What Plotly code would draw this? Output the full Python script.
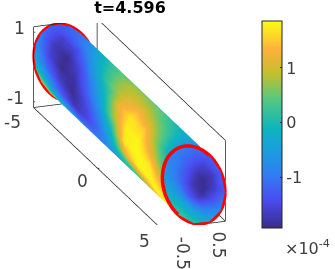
import numpy as np
import plotly.graph_objects as go

title = "t=4.596"

# stations along the tube and round it (degrees)
axial = [-5, -4, -3, -2, -1, 0, 1, 2, 3, 4, 5]
angle = [40, 60, 80, 100, 120, 140, 160, 180, 200, 220, 240, 260]

# field on the tube wall, in units of 1e-4, one row per angle
wall = [
    [-0.9, -0.6, -0.1, 0.3, 0.6, 0.5, 0.4, 0.1, -0.3, -0.7, -0.9],
    [-1.0, -0.7, -0.1, 0.4, 0.6, 0.5, 0.4, 0.1, -0.3, -0.7, -1.0],
    [-1.2, -1.0, -0.5, 0.1, 0.5, 0.8, 0.7, 0.5, 0.1, -0.3, -0.8],
    [-1.3, -1.2, -0.9, -0.3, 0.3, 0.8, 0.9, 0.8, 0.4, 0.0, -0.7],
    [-1.2, -1.6, -1.5, -0.9, -0.1, 0.6, 1.1, 1.3, 0.9, 0.3, -0.5],
    [-1.0, -1.7, -1.9, -1.5, -0.8, 0.0, 1.2, 1.7, 1.5, 0.6, -0.3],
    [-0.7, -1.5, -1.9, -1.8, -1.2, -0.5, 0.7, 1.75, 1.8, 1.1, 0.2],
    [-0.4, -1.1, -1.6, -1.9, -1.5, -0.9, 0.0, 1.7, 1.85, 1.7, 0.8],
    [0.2, -0.6, -1.3, -1.7, -1.5, -1.0, -0.2, 1.2, 1.8, 1.8, 1.3],
    [0.9, -0.3, -0.8, -1.2, -1.1, -0.8, -0.1, 0.3, 1.1, 1.8, 1.7],
    [1.3, 0.1, -0.5, -0.9, -0.9, -0.6, -0.1, 0.3, 0.9, 1.8, 1.8],
    [1.3, 0.1, -0.5, -0.9, -0.9, -0.6, -0.1, 0.3, 0.9, 1.8, 1.8],
]

# field on the end cap at x=5, one row per radius
cap_radius = [0, 0.33, 0.67, 1]
cap_angle = [0, 30, 60, 90, 120, 150, 180, 210, 240, 270, 300, 330, 360]
cap = [
    [-1.75, -1.75, -1.75, -1.75, -1.75, -1.75, -1.75, -1.75, -1.75, -1.75, -1.75, -1.75, -1.75],
    [-1.9, -1.9, -1.8, -1.6, -1.4, -1.3, -1.25, -1.2, -1.3, -1.45, -1.7, -1.85, -1.9],
    [-1.6, -1.7, -1.55, -1.3, -1.1, -0.95, -0.8, -0.5, -0.3, -0.5, -0.9, -1.3, -1.6],
    [-1.2, -1.2, -1.2, -1.0, -0.9, -0.8, -0.5, 0.0, 0.3, 0.1, -0.3, -0.8, -1.2],
]

xticks = [-5, 0, 5]
yticks = [-0.5, 0.5]
zticks = [-1, 1]
cticks = [-1, 0, 1]

xlim = [-5, 5]
ylim = [-0.935, 0.935]
zlim = [-1.16, 1.16]
clim = [-1.93, 1.86]

colors = [
    [0.0, "#3a2c8c"], [0.136, "#4a4cf0"], [0.265, "#2f80f2"], [0.377, "#1a9fdc"],
    [0.48, "#0db4bf"], [0.618, "#52c882"], [0.746, "#c4bf2e"], [0.859, "#fdb13c"],
    [0.95, "#fee224"], [1.0, "#f9fb15"],
]


def section(deg):
    t = np.radians(deg)
    return 0.92 * np.cos(t), 1.10 * np.sin(t) - 0.32 * np.cos(t)


fig = go.Figure()

shade = dict(ambient=1, diffuse=0, specular=0, roughness=1, fresnel=0)
ax_grid, ang_grid = np.meshgrid(axial, angle)
wall_y, wall_z = section(ang_grid)
fig.add_trace(go.Surface(
    x=ax_grid, y=wall_y, z=wall_z, surfacecolor=wall,
    cmin=clim[0], cmax=clim[1], colorscale=colors, lighting=shade,
    hoverinfo="skip",
    colorbar=dict(
        x=262 / 335, xanchor="left", y=1 - 21 / 269, yanchor="top",
        thickness=20, thicknessmode="pixels", len=207, lenmode="pixels",
        outlinecolor="#262626", outlinewidth=1,
        tickvals=cticks, ticktext=[str(v) for v in cticks],
        ticks="inside", ticklen=2, tickcolor="#262626",
        tickfont=dict(family="DejaVu Sans", size=16, color="#404040"),
        xpad=0, ypad=0,
    ),
))

cap_r, cap_a = np.meshgrid(cap_radius, cap_angle, indexing="ij")
cap_y, cap_z = section(cap_a)
fig.add_trace(go.Surface(
    x=np.full(cap_r.shape, xlim[1]), y=cap_y * cap_r, z=cap_z * cap_r, surfacecolor=cap,
    cmin=clim[0], cmax=clim[1], colorscale=colors, lighting=shade,
    showscale=False, hoverinfo="skip",
))

# red rings at both ends
ring_y, ring_z = section(np.arange(0, 365, 5))
for end in xlim:
    fig.add_trace(go.Scatter3d(
        x=np.full(ring_y.shape, end), y=ring_y, z=ring_z, mode="lines",
        line=dict(color="#ff0000", width=7), showlegend=False, hoverinfo="skip",
    ))

# box edges, only the ones the reference draws
x0, x1 = xlim
y0, y1 = ylim
z0, z1 = zlim
edges = [
    ((x0, y0, z1), (x0, y1, z1)), ((x0, y1, z1), (x0, y1, z0)),
    ((x0, y0, z1), (x0, y0, z0)), ((x0, y0, z0), (x0, y1, z0)),
    ((x0, y1, z1), (x1, y1, z1)), ((x1, y1, z1), (x1, y1, z0)),
    ((x1, y1, z0), (x1, y0, z0)), ((x1, y0, z0), (x0, y0, z0)),
    ((x0, y1, z0), (x1, y1, z0)),
]
for v in xticks:
    edges.append(((v, y0, z0), (v, y0 + 0.05, z0)))
for v in yticks:
    edges.append(((x1, v, z0), (x1 - 0.15, v, z0)))
for v in zticks:
    edges.append(((x0, y0, v), (x0, y0 + 0.05, v)))
for a, b in edges:
    fig.add_trace(go.Scatter3d(
        x=[a[0], b[0]], y=[a[1], b[1]], z=[a[2], b[2]], mode="lines",
        line=dict(color="#262626", width=1.5), showlegend=False, hoverinfo="skip",
    ))

lab = dict(family="DejaVu Sans", size=17, color="#404040")
notes = []
for v, dx, dy in zip(xticks, [-21, -15, -17], [14, 13, 12]):
    notes.append(dict(x=v, y=y0, z=z0, text=str(v), xshift=dx, yshift=-dy, showarrow=False, font=lab))
for v, dx, dy in zip(yticks, [6, 8], [26, 22]):
    notes.append(dict(x=x1, y=v, z=z0, text=str(v), xshift=dx, yshift=-dy, textangle=90, showarrow=False, font=lab))
for v, dx, dy in zip(zticks, [-18, -14], [4, 4]):
    notes.append(dict(x=x0, y=y0, z=v, text=str(v), xshift=dx, yshift=dy, showarrow=False, font=lab))

hidden = dict(visible=False, showbackground=False, showspikes=False)
k = 2.0
fig.update_layout(
    width=335, height=269,
    margin=dict(l=0, r=0, t=0, b=0),
    paper_bgcolor="white",
    showlegend=False,
    title=dict(text="<b>" + title + "</b>", x=130 / 335, xanchor="center", y=1 - 7 / 269, yanchor="middle",
               font=dict(family="DejaVu Sans", size=16, color="#000000")),
    scene=dict(
        domain=dict(x=[24 / 335, 235 / 335], y=[44 / 269, 246 / 269]),
        xaxis=dict(range=xlim, **hidden),
        yaxis=dict(range=ylim, **hidden),
        zaxis=dict(range=zlim, **hidden),
        aspectmode="manual",
        aspectratio=dict(x=3.7, y=0.67, z=0.853),
        camera=dict(
            projection=dict(type="orthographic"),
            center=dict(x=0, y=0, z=0),
            up=dict(x=0, y=0, z=1),
            eye=dict(x=0.881 * k, y=-0.322 * k, z=0.347 * k),
        ),
        annotations=notes,
    ),
    annotations=[dict(
        x=307 / 335, y=1 - 247 / 269, xref="paper", yref="paper", xanchor="center", yanchor="middle",
        showarrow=False,
        text="×10<sup>-4</sup>", font=dict(family="DejaVu Sans", size=16, color="#404040"),
    )],
)

fig.write_html("out.html", config={"displayModeBar": False},
               post_script="document.body.style.margin = '0';")
